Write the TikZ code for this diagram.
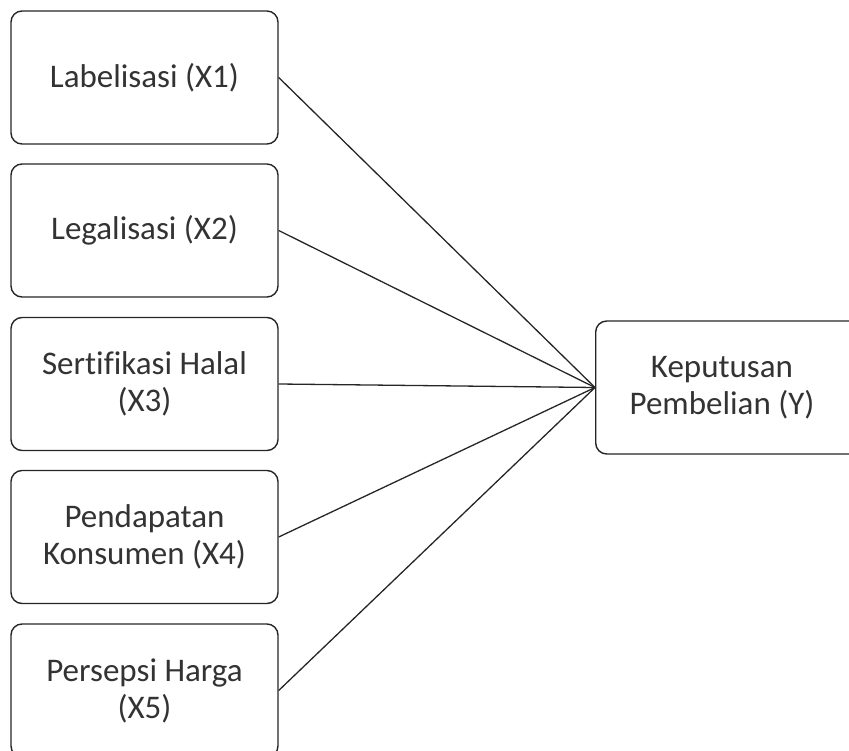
\documentclass[tikz,border=0pt]{standalone}
\usepackage{fontspec}
\setmainfont[Ligatures=NoCommon]{Carlito}
\begin{document}
\begin{tikzpicture}[x=1pt,y=-1pt,
  box/.style={draw=black!85,line width=1.4pt,rounded corners=11pt,fill=white,
    minimum width=267pt,minimum height=133pt,align=center,inner sep=0pt,
    font=\fontsize{33}{37}\selectfont,text=black!80},
  link/.style={draw=black!85,line width=1.3pt}]
\useasboundingbox (0,0) rectangle (849,751);
\clip (0,0) rectangle (849,751);
\node[box] (x1) at (144.5,77.5) {Labelisasi (X1)};
\node[box] (x2) at (144.5,230.5) {Legalisasi (X2)};
\node[box] (x3) at (144.5,384) {Sertifikasi Halal\\(X3)};
\node[box] (x4) at (144.5,537) {Pendapatan\\Konsumen (X4)};
\node[box] (x5) at (144.5,690.5) {Persepsi Harga\\(X5)};
\node[box,anchor=west] (y) at (595,387.5) {};
\node[anchor=center,align=center,inner sep=0pt,font=\fontsize{33}{37}\selectfont,text=black!80] (yt) at (722,387.5) {Keputusan\\Pembelian (Y)};
\foreach \n in {x1,x2,x3,x4,x5} \draw[link] (\n.east) -- (y.west);
\end{tikzpicture}
\end{document}
